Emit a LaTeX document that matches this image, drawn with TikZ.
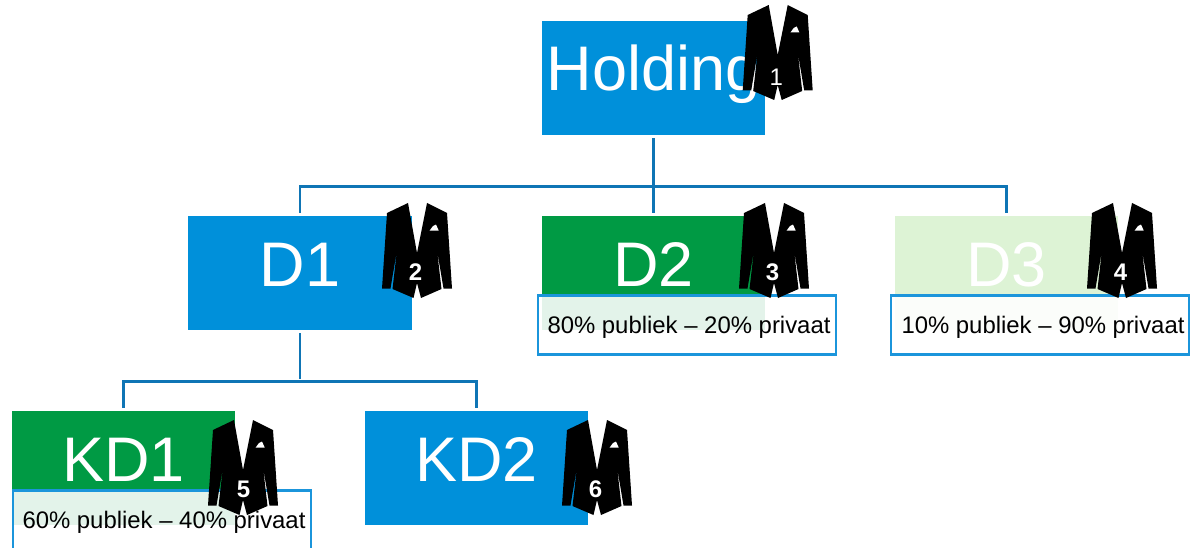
\documentclass[tikz,border=0pt]{standalone}
\usepackage{fontspec}
\setmainfont{Liberation Sans}
\definecolor{boxblue}{HTML}{0090DA}
\definecolor{boxgreen}{HTML}{009A44}
\definecolor{boxpale}{HTML}{DDF3D5}
\definecolor{linkblue}{HTML}{0F75B5}
\definecolor{rimblue}{HTML}{1B95DB}
\tikzset{
  unit/.style={minimum width=223.5pt, minimum height=114pt, inner sep=0pt, text height=50pt, text depth=24pt, text=white, font=\fontsize{63}{70}\selectfont},
  link/.style={linkblue, line width=2.5pt, shorten <=3pt, shorten >=3pt},
  share/.style={draw=rimblue, line width=2.5pt, fill=white, fill opacity=0.89, text opacity=1, minimum width=298pt, minimum height=59pt, inner sep=0pt, text height=20pt, text depth=4pt, font=\fontsize{23.9}{26}\selectfont},
  jacketnum/.style={white, inner sep=0pt, text height=17pt, text depth=0pt, font=\fontsize{24}{26}\selectfont\bfseries},
  jacket/.pic={
    \fill[black] (-9,0) -- (-30,10) -- (-35,85.5) -- (-26.5,85.5) -- (-20,47) -- (-24.5,86)
      -- (-3.5,95) -- (0,80) -- (4,95) -- (24.5,86) -- (20,47) -- (26.5,85.5) -- (35,85.5)
      -- (30,10) -- (10,0) -- (0,50) -- cycle;
    \fill[white] (12.7,27.5) -- (16,23) -- (19,21.5) -- (21.7,27.5) -- cycle;
    \node[jacketnum] (-num) at (-1.5,68.7) {#1};
  }
}
\begin{document}
\begin{tikzpicture}[x=1pt,y=-1pt]
   \path[clip] (0,0) rectangle (1204,548);
   % units
   \node[unit,fill=boxblue]  (holding) at (653.5, 78) {Holding};
   \node[unit,fill=boxblue]  (d1)      at (300,  273) {D1};
   \node[unit,fill=boxgreen] (d2)      at (653.5,273) {D2};
   \node[unit,fill=boxpale]  (d3)      at (1006.5,273) {D3};
   \node[unit,fill=boxgreen] (kd1)     at (123.5,468) {KD1};
   \node[unit,fill=boxblue]  (kd2)     at (476.5,468) {KD2};
   % links
   \coordinate (bar1) at (653.5,186.5);
   \coordinate (bar2) at (300,381.5);
   \draw[link] (holding) -- (d2);
   \draw[link] (d1) |- (bar1) -| (d3);
   \draw[link] (d1) -- (bar2);
   \draw[link] (kd1) |- (bar2) -| (kd2);
   % shares
   \node[share] (s2) at (687, 325.2) {\hspace*{4pt}80\% publiek – 20\% privaat};
   \node[share] (s3) at (1040,325.2) {\hspace*{6pt}10\% publiek – 90\% privaat};
   \node[share] (s1) at (162, 520) {\hspace*{4pt}60\% publiek – 40\% privaat};
   % jackets
   \pic (j1) at (777.7,5)  {jacket={\raisebox{-3pt}{\mdseries 1}}};
   \pic (j2) at (417,203)  {jacket=2};
   \pic (j3) at (774,203)  {jacket=3};
   \pic (j4) at (1122,203) {jacket=4};
   \pic (j5) at (243,420)  {jacket={\hspace*{4pt}5}};
   \pic (j6) at (597,420)  {jacket=6};
\end{tikzpicture}
\end{document}
